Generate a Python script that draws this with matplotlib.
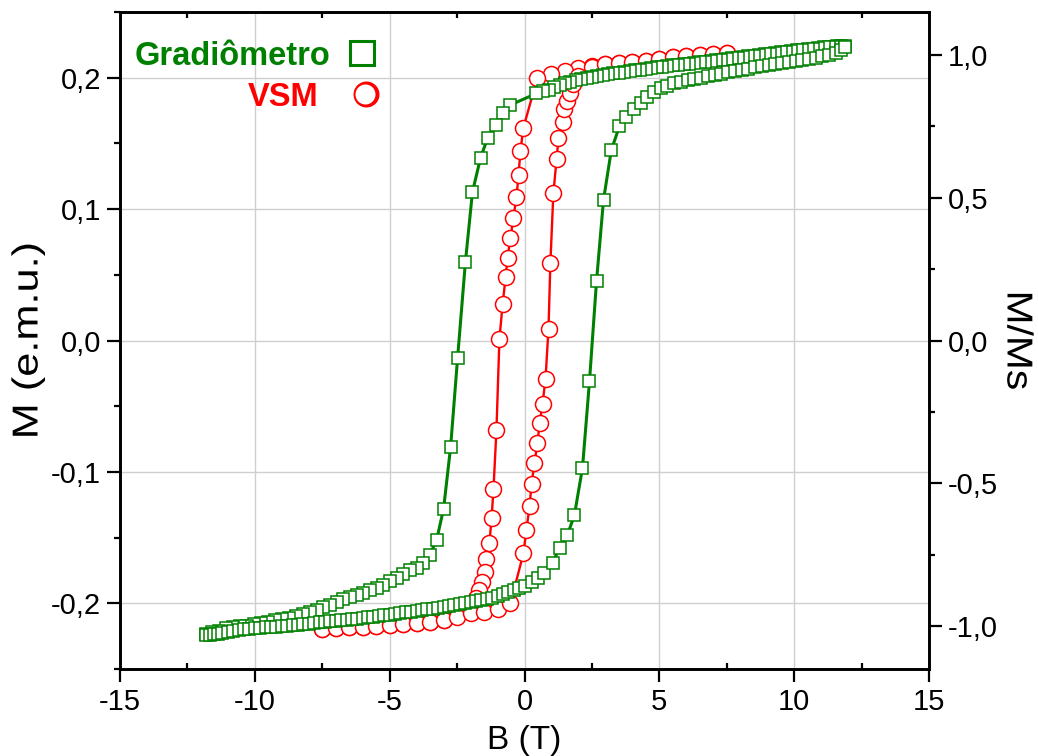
import matplotlib
matplotlib.use("Agg")
import matplotlib.pyplot as plt
from matplotlib.ticker import MultipleLocator, FixedLocator, FuncFormatter
from matplotlib.lines import Line2D
from matplotlib.patheffects import AbstractPathEffect
from matplotlib.transforms import Affine2D

# ---------------- data ----------------
# Gradiometer loop: descending branch (+12 T -> -12 T)
grad_down_B = [11.9, 11.75, 11.6, 11.45, 11.3, 11.1, 10.9, 10.7, 10.5, 10.3,
               10.1, 9.9, 9.7, 9.5, 9.3, 9.1, 8.9, 8.7, 8.5, 8.3,
               8.1, 7.9, 7.7, 7.5, 7.3, 7.1, 6.9, 6.7, 6.5, 6.3,
               6.1, 5.9, 5.7, 5.5, 5.3, 5.1, 4.9, 4.7, 4.5, 4.3,
               4.1, 3.9, 3.7, 3.5, 3.3, 3.1, 2.9, 2.7, 2.5, 2.3,
               2.1, 1.9, 1.7, 1.5, 1.3, 1.1, 0.9, 0.7, 0.44,
               -0.55, -0.81, -1.07, -1.37, -1.63, -1.93, -2.19, -2.48, -2.74, -3.0,
               -3.26, -3.52, -3.78, -4.0, -4.26, -4.52, -4.74, -5.0, -5.26, -5.48,
               -5.74, -6.0, -6.22, -6.48, -6.74, -6.96, -7.22, -7.48, -7.7, -7.96,
               -8.22, -8.48, -8.74, -9.0, -9.26, -9.52, -9.78, -10.04, -10.3, -10.56,
               -10.82, -11.08, -11.34, -11.6, -11.8]
grad_down_M = [0.2245, 0.2243, 0.2240, 0.2237, 0.2234, 0.2230, 0.2226, 0.2222, 0.2218, 0.2213,
               0.2208, 0.2203, 0.2198, 0.2193, 0.2188, 0.2183, 0.2178, 0.2173, 0.2168, 0.2163,
               0.2158, 0.2153, 0.2148, 0.2143, 0.2138, 0.2133, 0.2128, 0.2123, 0.2118, 0.2113,
               0.2108, 0.2103, 0.2098, 0.2093, 0.2088, 0.2083, 0.2078, 0.2073, 0.2068, 0.2062,
               0.2056, 0.2050, 0.2044, 0.2038, 0.2032, 0.2026, 0.2020, 0.2014, 0.2008, 0.2000,
               0.1990, 0.1980, 0.1970, 0.1960, 0.1945, 0.1930, 0.1910, 0.1895, 0.1880,
               0.179, 0.173, 0.164, 0.154, 0.139, 0.113, 0.060, -0.013, -0.081, -0.128,
               -0.152, -0.1635, -0.169, -0.173, -0.175, -0.178, -0.181, -0.183, -0.186, -0.188,
               -0.190, -0.192, -0.194, -0.195, -0.197, -0.199, -0.2015, -0.203, -0.205, -0.2065,
               -0.208, -0.2095, -0.211, -0.212, -0.213, -0.214, -0.215, -0.216, -0.217, -0.2175,
               -0.218, -0.219, -0.221, -0.222, -0.223]

# Gradiometer loop: ascending branch (-12 T -> +12 T)
grad_up_B = [-11.8, -11.65, -11.5, -11.35, -11.2, -11.0, -10.8, -10.6, -10.4, -10.2,
             -10.0, -9.8, -9.6, -9.4, -9.2, -9.0, -8.8, -8.6, -8.4, -8.2,
             -8.0, -7.8, -7.6, -7.4, -7.2, -7.0, -6.8, -6.6, -6.4, -6.2,
             -6.0, -5.8, -5.6, -5.4, -5.2, -5.0, -4.8, -4.6, -4.4, -4.2,
             -4.0, -3.8, -3.6, -3.4, -3.2, -3.0, -2.8, -2.6, -2.4, -2.2,
             -2.0, -1.8, -1.6, -1.4, -1.2, -1.0, -0.8, -0.6, -0.4, -0.2, 0.0,
             0.26, 0.5, 0.74, 1.04, 1.3, 1.59, 1.85, 2.15, 2.41, 2.67,
             2.93, 3.22, 3.52, 3.78, 4.07, 4.33, 4.56, 4.81, 5.07, 5.3,
             5.56, 5.8, 6.05, 6.3, 6.55, 6.8, 7.05, 7.3, 7.55, 7.8,
             8.05, 8.3, 8.55, 8.8, 9.05, 9.3, 9.55, 9.8, 10.05, 10.3,
             10.55, 10.8, 11.05, 11.3, 11.55, 11.75, 11.9]
grad_up_M = [-0.2240, -0.2238, -0.2235, -0.2230, -0.2224, -0.2218, -0.2210, -0.2200, -0.2195, -0.2192,
             -0.2190, -0.2186, -0.2183, -0.2180, -0.2177, -0.2174, -0.2170, -0.2166, -0.2162, -0.2158,
             -0.2154, -0.2150, -0.2146, -0.2142, -0.2138, -0.2134, -0.2130, -0.2126, -0.2121, -0.2116,
             -0.2111, -0.2106, -0.2101, -0.2096, -0.2091, -0.2086, -0.2081, -0.2076, -0.2070, -0.2064,
             -0.2058, -0.2052, -0.2046, -0.2040, -0.2034, -0.2028, -0.2021, -0.2014, -0.2007, -0.2000,
             -0.1993, -0.1986, -0.1978, -0.1970, -0.1960, -0.1945, -0.1930, -0.1915, -0.1900, -0.1880, -0.1865,
             -0.184, -0.181, -0.177, -0.169, -0.158, -0.148, -0.133, -0.097, -0.031, 0.045,
             0.107, 0.145, 0.163, 0.170, 0.176, 0.181, 0.185, 0.189, 0.192, 0.194,
             0.196, 0.197, 0.198, 0.199, 0.200, 0.201, 0.202, 0.203, 0.204, 0.205,
             0.206, 0.207, 0.2078, 0.2086, 0.2094, 0.2102, 0.2110, 0.2118, 0.2126, 0.2134,
             0.2143, 0.2152, 0.2162, 0.2175, 0.2190, 0.2210, 0.2235]

# VSM loop: descending branch
vsm_down_B = [7.5, 7.0, 6.5, 6.0, 5.5, 5.0, 4.5,
              4.0, 3.5, 3.0, 2.5, 2.0, 1.5, 1.0, 0.48,
              -0.04, -0.15, -0.22, -0.30, -0.41, -0.52, -0.63, -0.70, -0.81, -0.93,
              -1.04, -1.15, -1.22, -1.30, -1.41, -1.48, -1.56, -1.67, -1.80, -2.0,
              -2.5, -3.0, -3.5, -4.0, -4.5, -5.0, -5.5, -6.0, -6.5, -7.0,
              -7.5]
vsm_down_M = [0.2190, 0.2182, 0.2175, 0.2167, 0.2155, 0.2144, 0.2130,
              0.2122, 0.2114, 0.2106, 0.2090, 0.2076, 0.2050, 0.2030, 0.2000,
              0.162, 0.1445, 0.126, 0.109, 0.0935, 0.078, 0.063, 0.048, 0.028, 0.001,
              -0.068, -0.113, -0.135, -0.154, -0.166, -0.176, -0.184, -0.190, -0.196, -0.2015,
              -0.2085, -0.2125, -0.2144, -0.2150, -0.2160, -0.2167, -0.2175, -0.2180, -0.2182, -0.2190,
              -0.2198]

# VSM loop: ascending branch
vsm_up_B = [-7.5, -7.0, -6.5, -6.0, -5.5, -5.0, -4.5,
            -4.0, -3.5, -3.0, -2.5, -2.0, -1.5, -1.0, -0.52,
            -0.04, 0.07, 0.19, 0.26, 0.37, 0.48, 0.56, 0.67, 0.78, 0.89,
            0.96, 1.07, 1.19, 1.26, 1.41, 1.48, 1.56, 1.67, 1.80, 2.0,
            2.5, 3.0, 3.5, 4.0, 4.5, 5.0, 5.5, 6.0, 6.5, 7.0,
            7.5]
vsm_up_M = [-0.2198, -0.2190, -0.2182, -0.2180, -0.2175, -0.2167, -0.2160,
            -0.2150, -0.2144, -0.2130, -0.2106, -0.2076, -0.2070, -0.2040, -0.2000,
            -0.162, -0.144, -0.126, -0.109, -0.0935, -0.078, -0.063, -0.048, -0.029, 0.009,
            0.059, 0.112, 0.138, 0.154, 0.1665, 0.176, 0.1825, 0.188, 0.195, 0.2015,
            0.2080, 0.2106, 0.2114, 0.2122, 0.2130, 0.2144, 0.2155, 0.2167, 0.2175, 0.2182,
            0.2190]

M_SAT = 0.2175          # saturation moment used for the normalised axis
x_ticks = [-15, -10, -5, 0, 5, 10, 15]
left_ticks = [-0.2, -0.1, 0.0, 0.1, 0.2]
right_ticks = [-1.0, -0.5, 0.0, 0.5, 1.0]
series_names = ["Gradiômetro", "VSM"]

GREEN = "#008000"
RED = "#ff0000"


class Stretch(AbstractPathEffect):
    """Scale a text path about its own centre (display coordinates)."""

    def __init__(self, sx=1.0, sy=1.0):
        super().__init__()
        self.sx, self.sy = sx, sy

    def draw_path(self, renderer, gc, tpath, affine, rgbFace=None):
        ext = tpath.get_extents(affine)
        cx, cy = (ext.x0 + ext.x1) / 2, (ext.y0 + ext.y1) / 2
        t = affine + Affine2D().translate(-cx, -cy).scale(self.sx, self.sy).translate(cx, cy)
        renderer.draw_path(gc, tpath, t, rgbFace)


# ---------------- figure ----------------
plt.rcParams["font.family"] = ["Liberation Sans", "DejaVu Sans"]

W, H = 1038, 756
X0, X1, YT, YB = 120, 929, 12, 669          # axes frame in pixels
fig = plt.figure(figsize=(W / 100, H / 100), dpi=100)
ax = fig.add_axes([X0 / W, 1 - YB / H, (X1 - X0) / W, (YB - YT) / H])


def fpos(px, py):
    return px / W, 1 - py / H


B_vsm = vsm_down_B + vsm_up_B
M_vsm = vsm_down_M + vsm_up_M
B_grad = grad_down_B + grad_up_B
M_grad = grad_down_M + grad_up_M

ax.plot(B_vsm, M_vsm, color=RED, lw=1.7, marker="o", ms=11.5,
        mfc="white", mec=RED, mew=1.1, zorder=3)
ax.plot(B_grad, M_grad, color=GREEN, lw=2.2, marker="s", ms=9.2,
        mfc="white", mec=GREEN, mew=1.1, zorder=4)

ax.set_xlim(-15, 15)
ax.set_ylim(-0.25, 0.25)

comma = FuncFormatter(lambda v, p: f"{v:.1f}".replace(".", ",").replace("-0,0", "0,0"))
intfmt = FuncFormatter(lambda v, p: f"{v:.0f}")

ax.xaxis.set_major_locator(FixedLocator(x_ticks))
ax.xaxis.set_minor_locator(MultipleLocator(2.5))
ax.xaxis.set_major_formatter(intfmt)
ax.yaxis.set_major_locator(FixedLocator(left_ticks))
ax.yaxis.set_minor_locator(MultipleLocator(0.05))
ax.yaxis.set_major_formatter(comma)

ax.grid(True, which="major", color="#cfcfcf", lw=1.0, zorder=0)
ax.set_axisbelow(True)

for s in ax.spines.values():
    s.set_linewidth(1.9)

ax.tick_params(axis="both", which="major", direction="out", length=9.5, width=1.6,
               labelsize=21, pad=4)
ax.tick_params(axis="both", which="minor", direction="out", length=4.3, width=1.6)
ax.tick_params(axis="x", which="minor", top=True, direction="in")
ax.tick_params(axis="x", which="major", top=False)

ax.set_xlabel("B (T)", fontsize=24)
ax.xaxis.set_label_coords(0.5, -(740 - YB) / (YB - YT))
ax.xaxis.label.set_va("center")

ax.set_ylabel("M (e.m.u.)", fontsize=26, rotation=90, rotation_mode="anchor")
ax.yaxis.set_label_coords((28 - X0) / (X1 - X0), 0.5)
ax.yaxis.label.set_va("center")
ax.yaxis.label.set_ha("center")
ax.yaxis.label.set_path_effects([Stretch(sy=1.2)])

# normalised right-hand axis
ax2 = ax.twinx()
ax2.set_ylim(-0.25 / M_SAT, 0.25 / M_SAT)
ax2.yaxis.set_major_locator(FixedLocator(right_ticks))
ax2.yaxis.set_minor_locator(MultipleLocator(0.25))
ax2.yaxis.set_major_formatter(comma)
ax2.tick_params(axis="y", which="major", direction="out", length=9.5, width=1.6,
                labelsize=21, pad=4)
ax2.tick_params(axis="y", which="minor", direction="out", length=4.3, width=1.6)
for s in ax2.spines.values():
    s.set_linewidth(1.9)
ax2.set_ylabel("M/Ms", fontsize=26, rotation=270, rotation_mode="anchor")
ax2.yaxis.set_label_coords((1017 - X0) / (X1 - X0), 0.5)
ax2.yaxis.label.set_va("center")
ax2.yaxis.label.set_ha("center")
ax2.yaxis.label.set_path_effects([Stretch(sy=1.13)])

# key: coloured names followed by their symbols
fig.text(*fpos(330, 65), series_names[0], color=GREEN, fontsize=23.5,
         fontweight="bold", ha="right", va="baseline", zorder=6)
fig.text(*fpos(318, 106), series_names[1], color=RED, fontsize=23.5,
         fontweight="bold", ha="right", va="baseline", zorder=6)
fig.add_artist(Line2D([362 / W], [1 - 53 / H], transform=fig.transFigure, ls="none",
                      marker="s", ms=17, mfc="white", mec=GREEN, mew=2.2, zorder=6))
fig.add_artist(Line2D([366 / W], [1 - 94 / H], transform=fig.transFigure, ls="none",
                      marker="o", ms=18.7, mfc=RED, mec="none", zorder=6))
fig.add_artist(Line2D([364.5 / W], [1 - 94 / H], transform=fig.transFigure, ls="none",
                      marker="o", ms=14.4, mfc="white", mec="none", zorder=7))

fig.savefig("out.png", dpi=100)
